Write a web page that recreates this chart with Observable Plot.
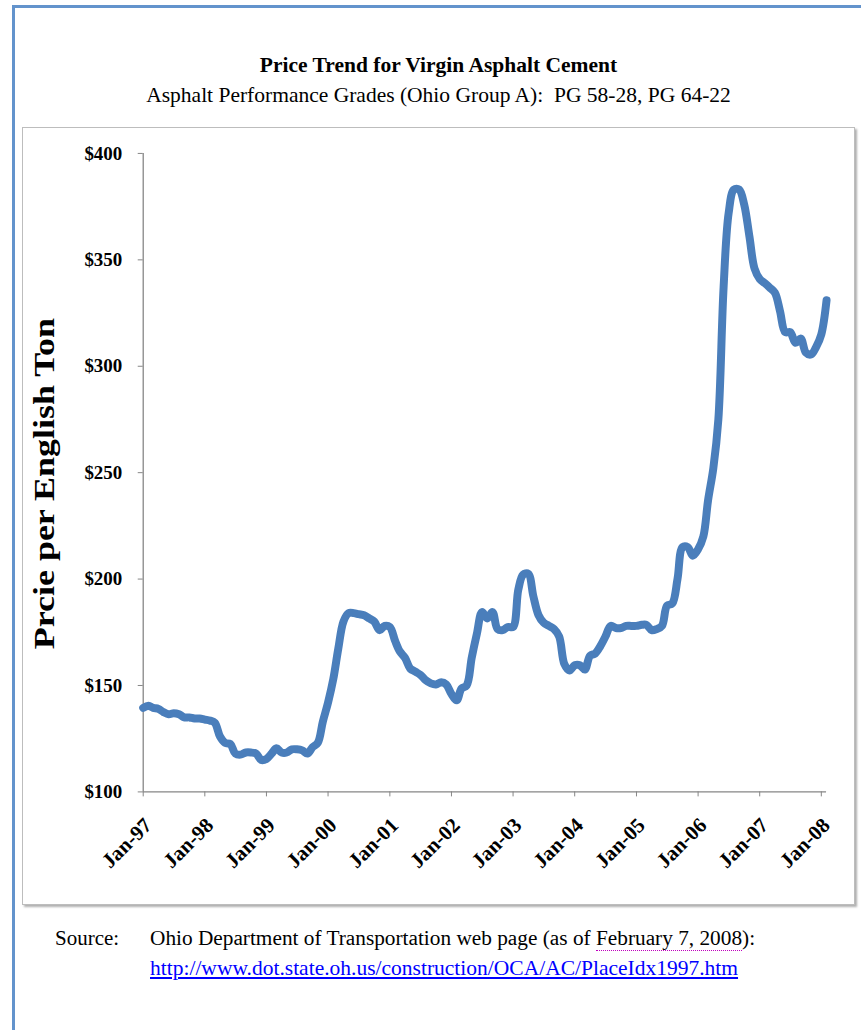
<!DOCTYPE html>
<html><head><meta charset="utf-8">
<script src="https://cdn.jsdelivr.net/npm/d3@7"></script>
<script src="https://cdn.jsdelivr.net/npm/@observablehq/plot@0.6"></script>
<style>
html,body{margin:0;padding:0;background:#fff;}
body{width:861px;height:1030px;position:relative;overflow:hidden;font-family:"Liberation Serif","Times New Roman",serif;color:#000;}
#frame{position:absolute;left:12px;top:5px;width:900px;height:1100px;border-top:3px solid #6393cc;border-left:3px solid #6393cc;}
#title{position:absolute;left:22px;width:833px;top:53px;text-align:center;font-weight:bold;font-size:21.5px;}
#subtitle{position:absolute;left:22px;width:833px;top:83px;text-align:center;font-size:21.5px;}
#box{position:absolute;left:22px;top:127px;width:831px;height:776px;border:1px solid #bdbdbd;box-shadow:2px 2px 2px #b0b0b0;}
#box svg{position:absolute;left:-1px;top:-1px;}
#source{position:absolute;left:55px;top:926px;font-size:21px;}
#src2{position:absolute;left:150px;top:926px;font-size:21.3px;white-space:nowrap;}
#link{position:absolute;left:150px;top:956px;font-size:21.5px;color:#0000ff;text-decoration:underline;white-space:nowrap;}
.tag{border-bottom:1px dotted #c000c0;}
</style>
</head><body>
<div id="frame"></div>
<div id="title">Price Trend for Virgin Asphalt Cement</div>
<div id="subtitle">Asphalt Performance Grades (Ohio Group A):&nbsp; PG 58-28, PG 64-22</div>
<div id="box"></div>
<div id="source">Source:</div>
<div id="src2">Ohio Department of Transportation web page (as of <span class="tag">February 7, 2008</span>):</div>
<div id="link">http://www.dot.state.oh.us/construction/OCA/AC/PlaceIdx1997.htm</div>
<script>
// Monthly price per English ton (Jan..Dec)
const years = [1997, 1998, 1999, 2000, 2001, 2002, 2003, 2004, 2005, 2006, 2007, 2008];
const p1997 = [139.5, 140.5, 139.5, 139, 137.5, 136.5, 137, 136.5, 135, 135, 134.5, 134.5];
const p1998 = [134, 133.5, 132.5, 126, 123, 122.5, 118, 117.5, 118.5, 118.5, 118, 115];
const p1999 = [115.5, 118, 120.5, 118.5, 118.5, 120, 120, 119.5, 118, 121, 123, 133];
const p2000 = [142, 153, 167, 180, 184, 184, 183.5, 183, 181.5, 180, 176, 178];
const p2001 = [177.5, 171, 166, 163, 158, 156.5, 155, 152.5, 151, 150.5, 151.5, 150.5];
const p2002 = [146, 143, 148.5, 150, 163, 174.5, 184.5, 181.5, 184.5, 176.5, 176, 177.5];
const p2003 = [177.5, 195, 202, 202.5, 192, 183, 179.5, 178, 176.5, 173, 160, 157];
const p2004 = [159.5, 159.5, 157.5, 164, 165, 168.5, 173, 178, 177, 177, 178, 178];
const p2005 = [178, 178.5, 178.5, 176, 176.5, 178, 187.5, 188.5, 200, 215, 215, 211];
const p2006 = [214, 220, 237, 252, 275, 337, 372, 383, 383, 376, 361, 346];
const p2007 = [341, 339, 337, 334.5, 326, 316, 316, 311, 313, 306.5, 305.5, 309];
const p2008 = [315, 331];
const yearPrices = [p1997, p1998, p1999, p2000, p2001, p2002, p2003, p2004, p2005, p2006, p2007, p2008];

const yTicks = [100, 150, 200, 250, 300, 350, 400];
const xTickLabels = ["Jan-97","Jan-98","Jan-99","Jan-00","Jan-01","Jan-02","Jan-03","Jan-04","Jan-05","Jan-06","Jan-07","Jan-08"];
const yLabel = "Prcie per English Ton";

const data = [];
years.forEach((yr, i) => yearPrices[i].forEach((v, m) => data.push({date: new Date(Date.UTC(yr, m, 1)), price: v})));
const xTicks = years.map(yr => new Date(Date.UTC(yr, 0, 1)));
const x0 = data[0].date, x1 = data[data.length - 1].date;

const chart = Plot.plot({
  width: 833, height: 778,
  marginLeft: 121, marginRight: 27, marginTop: 26, marginBottom: 112,
  style: {fontFamily: "'Liberation Serif', 'Times New Roman', serif", background: "transparent", overflow: "visible", color: "#000"},
  x: {type: "utc", domain: [x0, x1]},
  y: {domain: [100, 400]},
  marks: [
    Plot.ruleY([100], {stroke: "#868686", strokeWidth: 1.3}),
    Plot.ruleX([x0], {stroke: "#868686", strokeWidth: 1.3}),
    Plot.axisY({ticks: yTicks, tickFormat: d => "$" + d, tickSize: 5, tickPadding: 16, fontSize: 19, fontWeight: "bold", stroke: "#868686", label: null}),
    Plot.axisX({ticks: xTicks, tickFormat: () => "", tickSize: 5, stroke: "#868686", label: null}),
    Plot.axisX({ticks: xTicks, tickFormat: (d, i) => xTickLabels[i], tickRotate: -45, tickSize: 0, tickPadding: 30, dx: 5, fontSize: 21, fontWeight: "bold", label: null}),
    Plot.lineY(data, {x: "date", y: "price", stroke: "#4a7ebb", strokeWidth: 8, curve: "catmull-rom", strokeLinejoin: "round", strokeLinecap: "round"}),
    Plot.text([yLabel], {text: d => d, frameAnchor: "left", textAnchor: "middle", dx: -99, dy: 11, rotate: -90, fontSize: 30, fontWeight: "bold", fill: "#000", className: "ylabel"})
  ]
});
document.getElementById("box").appendChild(chart);
// stretch the axis title to the length it has in the reference
d3.select(chart).selectAll("g.ylabel text").attr("textLength", 332).attr("lengthAdjust", "spacingAndGlyphs");
</script>
</body></html>
